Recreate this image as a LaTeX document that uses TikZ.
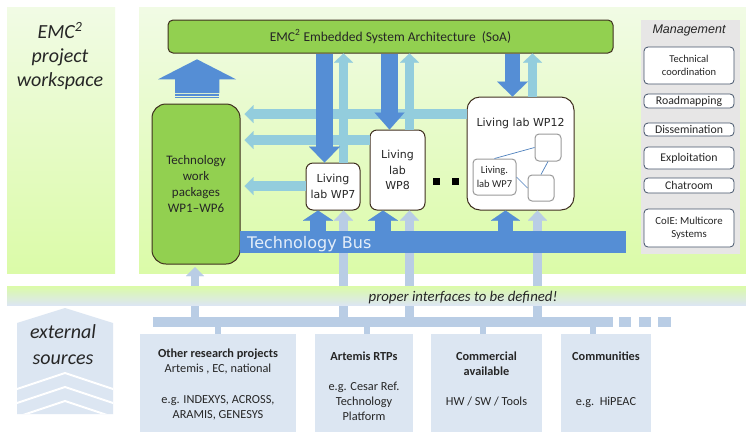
\documentclass[tikz,border=0pt]{standalone}
\usepackage{fontspec}
\setmainfont{Carlito}
\newfontfamily\dejavu{DejaVu Sans}
\newfontfamily\arialf{Liberation Sans}
\usetikzlibrary{arrows.meta}
\definecolor{dkblue}{HTML}{558ED5}
\definecolor{ltteal}{HTML}{93CDDD}
\definecolor{grblue}{HTML}{B9CDE5}
\definecolor{boxblue}{HTML}{DCE6F2}
\definecolor{lgreen}{HTML}{92D050}
\definecolor{pantop}{HTML}{F1FBE5}
\definecolor{panbot}{HTML}{DBFBA8}
\definecolor{brd}{HTML}{3F2F1F}
\definecolor{mgray}{HTML}{E7E6E6}
\definecolor{mbrd}{HTML}{44546A}
\definecolor{txtc}{HTML}{262626}
\definecolor{bustxt}{HTML}{E4EEF9}
\definecolor{ibrd}{HTML}{9A9A9A}
\definecolor{ilink}{HTML}{4F81BD}
\tikzset{
  gbox/.style={draw=brd, fill=lgreen, line width=1pt, rounded corners=#1, inner sep=0pt, text=txtc},
  gbox/.default=5pt,
  wbox/.style={draw=brd, fill=white, line width=1pt, rounded corners=#1, inner sep=0pt, text=txtc},
  wbox/.default=7pt,
  mbox/.style={draw=mbrd, fill=white, line width=0.8pt, rounded corners=4pt, inner sep=0pt, minimum width=90pt, align=center, text=txtc, font=\fontsize{11.8}{13}\selectfont},
  ibox/.style={draw=ibrd, fill=white, line width=1pt, rounded corners=4pt, inner sep=0pt, text=txtc},
  ebox/.style={fill=boxblue, inner sep=0pt, minimum height=98pt},
  gbbar/.style={fill=grblue, inner sep=0pt, minimum height=10pt},
  lab/.style={font=\dejavu\fontsize{11}{15.5}\selectfont, align=center, text=txtc},
  bt/.style={font=\fontsize{12.3}{15}\selectfont, anchor=base, text=txtc, inner sep=0pt},
  btb/.style={bt, font=\bfseries\fontsize{12.3}{15}\selectfont},
  blk/.style n args={4}{draw=#1, line width=0.01pt, -{Triangle[width=#3,length=#4]}, preaction={draw=#1, line width=#2, shorten >=#4-1pt, arrows=-}},
  stub/.style={draw=grblue, line width=6pt},
  ilinkl/.style={draw=ilink, line width=0.7pt},
}
\begin{document}
\begin{tikzpicture}[x=1pt,y=-1pt]
\useasboundingbox (0,0) rectangle (746,432);
\fill[white] (0,0) rectangle (746,432);
% panels
\shade[top color=pantop, bottom color=panbot] (7,7) rectangle (115,273);
\shade[top color=pantop, bottom color=panbot] (139,7) rectangle (746,273);
\node[font=\itshape\fontsize{20}{24}\selectfont, align=center, text=txtc] (ttl) at (60,56) {EMC\textsuperscript{2}\\project\\workspace};

% SoA and management
\node[gbox=5pt, minimum width=445pt, minimum height=33pt, font=\fontsize{13.5}{16}\selectfont] (soa) at (390.5,36.5) {EMC\textsuperscript{2} Embedded System Architecture~~(SoA)};
\node[fill=mgray, inner sep=0pt, minimum width=99pt, minimum height=234pt] (mpanel) at (690.5,137) {};
\node[font=\arialf\itshape\fontsize{12.5}{15}\selectfont, text=txtc] (mtitle) at (689,30) {Management};
\node[mbox, minimum height=37pt, font=\fontsize{10.5}{12.5}\selectfont] (m1) at (689,65.5) {Technical\\coordination};
\node[mbox, minimum height=14pt] (m2) at (689,101) {Roadmapping};
\node[mbox, minimum height=13pt] (m3) at (689,129.5) {Dissemination};
\node[mbox, minimum height=22pt] (m4) at (689,158) {Exploitation};
\node[mbox, minimum height=15pt] (m5) at (689,185.5) {Chatroom};
\node[mbox, minimum height=38pt, font=\fontsize{10.8}{13}\selectfont] (m6) at (689,228) {CoIE: Multicore\\Systems};

% work packages and living labs
\node[gbox=14pt, minimum width=88pt, minimum height=160pt, align=center, font=\fontsize{13}{16}\selectfont] (wp) at (196,184) {Technology\\work\\packages\\WP1--WP6};
\node[wbox=7pt, minimum width=54pt, minimum height=47pt, lab] (wp7) at (333,186.5) {Living\\lab WP7};
\node[wbox=7pt, minimum width=55pt, minimum height=80pt, lab] (wp8) at (397.5,170) {Living\\lab\\WP8};
\node[wbox=13pt, minimum width=107pt, minimum height=113pt] (wp12) at (520.5,153.5) {};
\node[lab] (wp12t) at (520.5,123) {Living lab WP12};
\node[ibox, minimum width=43pt, minimum height=36pt, align=center, font=\fontsize{10.5}{14}\selectfont] (n7) at (494.5,177) {Living.\\lab WP7};
\node[ibox, minimum width=26pt, minimum height=27pt] (ia) at (548,147.5) {};
\node[ibox, minimum width=26pt, minimum height=26pt] (ib) at (541,188) {};
\draw[ilinkl] (n7.north) -- (ia.west);
\draw[ilinkl] (n7.east) -- (ib.west);
\draw[ilinkl] (ia.south) -- (ib.north);
\node[fill=black, minimum size=7pt, inner sep=0pt] (dot1) at (436.5,181.5) {};
\node[fill=black, minimum size=7pt, inner sep=0pt] (dot2) at (455.5,181.5) {};

% external bar and boxes
\node[gbbar, minimum width=460pt] (bar) at (383,322) {};
\node[gbbar, minimum width=12pt] (sq1) at (625,322) {};
\node[gbbar, minimum width=12pt] (sq2) at (645,322) {};
\node[gbbar, minimum width=13pt] (sq3) at (664.5,322) {};
\node[ebox, minimum width=156pt] (b1) at (218,383) {};
\node[ebox, minimum width=98pt] (b2) at (364,383) {};
\node[ebox, minimum width=111pt] (b3) at (486.5,383) {};
\node[ebox, minimum width=90pt] (b4) at (606,383) {};
\coordinate (s1) at (218,0);
\coordinate (s2) at (367,0);
\coordinate (s3) at (483,0);
\coordinate (s4) at (593,0);
\draw[stub] (bar.south -| s1) -- (b1.north -| s1);
\draw[stub] (bar.south -| s2) -- (b2.north -| s2);
\draw[stub] (bar.south -| s3) -- (b3.north -| s3);
\draw[stub] (bar.south -| s4) -- (b4.north -| s4);
\node[btb] (t11) at (218,357) {Other research projects};
\node[bt] (t12) at (218,372) {Artemis , EC, national};
\node[bt] (t13) at (218,403) {e.g. INDEXYS, ACROSS,};
\node[bt] (t14) at (218,418) {ARAMIS, GENESYS};
\node[btb] (t21) at (364,360) {Artemis RTPs};
\node[bt] (t22) at (364,390) {e.g. Cesar Ref.};
\node[bt] (t23) at (364,405) {Technology};
\node[bt] (t24) at (364,420) {Platform};
\node[btb] (t31) at (486.5,360) {Commercial};
\node[btb] (t32) at (486.5,375) {available};
\node[bt] (t33) at (486.5,405) {HW / SW / Tools};
\node[btb] (t41) at (606,360) {Communities};
\node[bt] (t42) at (606,405) {e.g.~~HiPEAC};

% external sources chevron
\fill[boxblue] (17,323) -- (65,308) -- (113,323) -- (113,414) -- (17,414) -- cycle;
\begin{scope}
\clip (17,323) -- (65,308) -- (113,323) -- (113,414) -- (17,414) -- cycle;
\draw[white, line width=2pt] (17,389) -- (65,373) -- (113,389);
\draw[white, line width=2pt] (17,403) -- (65,387) -- (113,403);
\draw[white, line width=2pt] (17,417) -- (65,401) -- (113,417);
\end{scope}
\node[font=\itshape\fontsize{20}{26}\selectfont, align=center, text=txtc] (ext) at (63,345) {external\\sources};

% grey-blue arrows from external bar
\coordinate (xk) at (195,0);
\coordinate (xb) at (343.5,0);
\coordinate (xd) at (409.5,0);
\coordinate (xj) at (537.5,0);
\coordinate (wpt) at (195,267);
\draw[blk={grblue}{8pt}{18pt}{9pt}] (bar.north -| xk) -- (wpt);
\draw[blk={grblue}{9pt}{19pt}{10pt}] (bar.north -| xb) -- (wp7.south -| xb);
\draw[blk={grblue}{9pt}{19pt}{10pt}] (bar.north -| xd) -- (wp8.south -| xd);
\draw[blk={grblue}{9pt}{19pt}{10pt}] (bar.north -| xj) -- (wp12.south -| xj);

% interface band
\shade[top color=panbot, bottom color=boxblue] (7,286) rectangle (746,305);
\node[font=\itshape\fontsize{14.8}{17}\selectfont, text=txtc] (iface) at (463,297.5) {proper interfaces to be defined!};

% horizontal light arrows
\coordinate (ya) at (0,114);
\coordinate (yb) at (0,140);
\coordinate (yc) at (0,186);
\coordinate (hx) at ([xshift=4pt]wp.east);
\draw[blk={ltteal}{10pt}{18pt}{9pt}] (wp12.west |- ya) -- (hx |- ya);
\draw[blk={ltteal}{10pt}{18pt}{9pt}] (wp8.west |- yb) -- (hx |- yb);
\draw[blk={ltteal}{10pt}{18pt}{9pt}] (wp7.west |- yc) -- (hx |- yc);

% light up arrows to SoA
\coordinate (xf) at (532.5,0);
\draw[blk={ltteal}{9pt}{19pt}{9pt}] (wp7.north -| xb) -- (soa.south -| xb);
\draw[blk={ltteal}{9pt}{19pt}{9pt}] (wp8.north -| xd) -- (soa.south -| xd);
\draw[blk={ltteal}{9pt}{19pt}{9pt}] (wp12.north -| xf) -- (soa.south -| xf);

% dark down arrows from SoA
\coordinate (xa) at (324.5,0);
\coordinate (xc) at (389.5,0);
\coordinate (xe) at (512.5,0);
\draw[blk={dkblue}{17pt}{31pt}{16pt}] (soa.south -| xa) -- (wp7.north -| xa);
\draw[blk={dkblue}{17pt}{30pt}{17pt}] (soa.south -| xc) -- (wp8.north -| xc);
\draw[blk={dkblue}{15pt}{31pt}{15pt}] (soa.south -| xe) -- (wp12.north -| xe);

% technology bus
\node[fill=dkblue, inner sep=0pt, minimum width=386pt, minimum height=22pt] (bus) at (433,242) {};
\node[font=\dejavu\fontsize{16}{18}\selectfont, text=bustxt, anchor=base west, inner sep=0pt] (bust) at (247,248.5) {Technology Bus};
\coordinate (xg) at (318,0);
\coordinate (xh) at (383,0);
\coordinate (xi) at (505.5,0);
\draw[blk={dkblue}{16pt}{30pt}{10pt}] (bus.north -| xg) -- (wp7.south -| xg);
\draw[blk={dkblue}{16pt}{30pt}{10pt}] (bus.north -| xh) -- (wp8.south -| xh);
\draw[blk={dkblue}{15pt}{29pt}{10pt}] (bus.north -| xi) -- (wp12.south -| xi);

% big blue up arrow
\fill[dkblue] (158,79.3) -- (197,59.3) -- (236,79.3) -- (219.3,79.3) -- (219.3,93.2) -- (175,93.2) -- (175,79.3) -- cycle;
\fill[dkblue] (175,94.3) rectangle (219.3,95.7);
\fill[dkblue] (175,96.7) rectangle (219.3,98.2);
\end{tikzpicture}
\end{document}
